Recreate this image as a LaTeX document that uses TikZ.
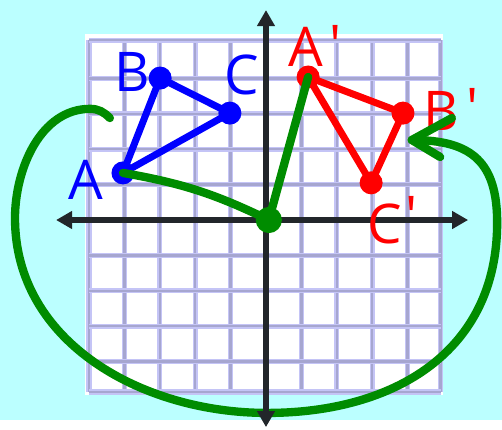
\documentclass[tikz,border=0pt]{standalone}
\usepackage{fontspec}
\setmainfont{Open Sans}
\usetikzlibrary{arrows.meta}

\definecolor{sky}{RGB}{187,255,255}
\definecolor{gridedge}{RGB}{196,196,246}
\definecolor{gridcore}{RGB}{166,166,208}
\definecolor{axisgray}{RGB}{34,38,42}
\definecolor{rotgreen}{RGB}{0,140,0}

\begin{document}
\begin{tikzpicture}[
    font=\fontsize{44}{44}\selectfont,
    dot/.style={circle, fill, inner sep=0pt, minimum size=6.5mm},
    bdot/.style={dot, blue},
    rdot/.style={dot, red},
    gdot/.style={dot, rotgreen, minimum size=7.4mm},
    lab/.style={inner sep=0pt},
    gridline/.style={draw=gridedge, double=gridcore, double distance=2pt, line width=1.1pt},
    tri/.style={line width=5.6pt, line join=round},
    axis/.style={axisgray, line width=4.6pt, >={Triangle[length=4.5mm, width=4.8mm]}, <->},
    rot/.style={rotgreen, line width=6.7pt, line cap=round, line join=round},
]

% --- BACKGROUND + GRID ---
\fill[sky] (-7.514,-5.650) rectangle (6.667,6.215);
\fill[white] (-5.1,-4.95) rectangle (5.0,5.25);
\foreach \x in {-5,-4,-3,-2,-1,0,1,2,3,4,4.93}
    \draw[gridline] (\x,-4.86) -- (\x,5.08);
\foreach \y in {-4.86,-4,-3,-2,-1,0,1,2,3,4,5.08}
    \draw[gridline] (-5,\y) -- (4.93,\y);

% --- X AXIS ---
\coordinate (xl) at (-5.93,0);
\coordinate (xr) at (5.71,0);
\draw[axis] (xl) -- (xr);

% --- ORIGINAL TRIANGLE ABC ---
\node[bdot] (A) at (-4.04,1.33) {};
\node[bdot] (B) at (-2.99,4.01) {};
\node[bdot] (C) at (-1.02,3.02) {};
\draw[tri, blue] (A.center) -- (B.center) -- (C.center) -- cycle;

\node[lab, text=blue] (labA) at (-5.08,1.13) {A};
\node[lab, text=blue] (labB) at (-3.79,4.18) {B};
\node[lab, text=blue] (labC) at (-0.68,4.10) {C};

% --- IMAGE TRIANGLE A'B'C' ---
\node[rdot] (Ap) at (1.19,4.04) {};
\node[rdot] (Bp) at (3.87,3.02) {};
\node[rdot] (Cp) at (2.97,1.05) {};
\draw[tri, red] (Ap.center) -- (Bp.center) -- (Cp.center) -- cycle;

\node[lab, text=red, anchor=base west] (labAp) at (0.62,4.33)
    {A\kern5pt\raisebox{2pt}{\textquotesingle}};
\node[lab, text=red, anchor=base west] (labBp) at (4.44,2.54)
    {B\kern6pt\raisebox{2pt}{\textquotesingle}};
\node[lab, text=red, anchor=base west] (labCp) at (2.85,-0.66)
    {C\kern3pt\raisebox{6pt}{\textquotesingle}};

% --- ROTATION ARROW (clockwise) ---
\coordinate (hook) at (-4.41,2.88);
\coordinate (top) at (-4.97,3.14);
\coordinate (west) at (-7.09,0.05);
\coordinate (south) at (0.03,-5.45);
\coordinate (east) at (6.53,-0.08);
\coordinate (tip) at (4.12,2.26);
\coordinate (barbup) at (5.25,2.88);
\coordinate (barblow) at (4.92,1.78);
\draw[rot] (hook) to[out=135, in=0] (top)
    to[out=180, in=90, looseness=0.95] (west)
    to[out=-90, in=180] (south)
    to[out=0, in=-90, looseness=1.1] (east)
    to[out=90, in=0, looseness=1.3] (tip);
\draw[rot] (barbup) -- (tip) -- (barblow);

% --- Y AXIS ---
\coordinate (yb) at (0,-5.85);
\coordinate (yt) at (0,5.93);
\draw[axis] (yb) -- (yt);

% --- PATH THROUGH THE CENTRE ---
\node[gdot] (O) at (0.08,0) {};
\draw[rot] (A.center) to[bend left=8] (O.center) -- (Ap.center);

\end{tikzpicture}
\end{document}
